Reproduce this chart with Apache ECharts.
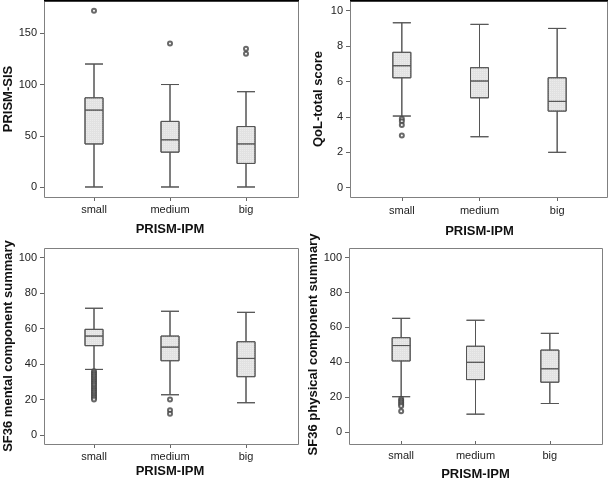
<!DOCTYPE html>
<html>
<head>
<meta charset="utf-8">
<script src="https://cdn.jsdelivr.net/npm/echarts@6/dist/echarts.min.js"></script>
<style>
  html, body { margin: 0; padding: 0; background: #fff; }
  #main { width: 609px; height: 482px; }
</style>
</head>
<body>
<div id="main"></div>
<script>
// groups on the x axis
var groups = ['small', 'medium', 'big'];

// box stats: [low whisker, Q1, median, Q3, high whisker]
var sisStats = [[0, 42, 75, 87, 120], [0, 34, 46, 64, 100], [0, 23, 42, 59, 93]];
var sisOutliers = [[0, 172], [1, 140], [2, 130], [2, 135]];
var sisTicks = [0, 50, 100, 150];

var qolStats = [[4.05, 6.21, 6.89, 7.65, 9.32], [2.88, 5.08, 6.03, 6.78, 9.23], [2.0, 4.33, 4.88, 6.21, 9.0]];
var qolOutliers = [[0, 3.9], [0, 3.75], [0, 3.55], [0, 2.95]];
var qolTicks = [0, 2, 4, 6, 8, 10];

var mcsStats = [[37, 50.4, 55.8, 59.6, 71.5], [22.7, 41.9, 49.6, 55.8, 69.8], [18.2, 32.9, 43.2, 52.6, 69.2]];
var mcsOutliers = [[0, 36], [0, 35], [0, 34], [0, 33], [0, 32], [0, 31], [0, 30], [0, 29], [0, 28],
  [0, 27], [0, 26], [0, 25], [0, 24], [0, 23], [0, 22], [0, 21], [0, 20],
  [1, 20], [1, 14], [1, 12]];
var mcsTicks = [0, 20, 40, 60, 80, 100];

var pcsStats = [[20.3, 40.8, 49.6, 54.1, 65.2], [10.3, 30.1, 40, 49.2, 64.1], [16.4, 28.6, 36.3, 47, 56.6]];
var pcsOutliers = [[0, 19], [0, 18], [0, 17], [0, 16], [0, 15], [0, 12]];
var pcsTicks = [0, 20, 40, 60, 80, 100];

var xTitle = 'PRISM-IPM';
var yTitles = ['PRISM-SIS', 'QoL-total score', 'SF36 mental component summary', 'SF36 physical component summary'];

// layout of each panel (frame in px, plot band area, axis range)
var panels = [
  { stats: sisStats, out: sisOutliers, ticks: sisTicks, fx0: 44, fx1: 298, fy0: 1, fy1: 197, px0: 56, px1: 284,
    min: -9.76, max: 181.5, nameGapY: 23, labelMargin: 7, nameGapX: 26, topLine: true },
  { stats: qolStats, out: qolOutliers, ticks: qolTicks, fx0: 350, fx1: 607, fy0: 1, fy1: 197, px0: 363, px1: 596,
    min: -0.525, max: 10.55, nameGapY: 25, labelMargin: 8, nameGapX: 28, topLine: true },
  { stats: mcsStats, out: mcsOutliers, ticks: mcsTicks, fx0: 44, fx1: 298, fy0: 248, fy1: 444, px0: 56, px1: 284,
    min: -5.08, max: 105.5, nameGapY: 27, labelMargin: 7, nameGapX: 21, topLine: false },
  { stats: pcsStats, out: pcsOutliers, ticks: pcsTicks, fx0: 349, fx1: 602, fy0: 248, fy1: 444, px0: 364, px1: 587,
    min: -5.08, max: 105.5, nameGapY: 29, labelMargin: 9, nameGapX: 27, topLine: false }
];

var W = 609, H = 482;
var font = 'Liberation Sans, Arial, sans-serif';

var grids = [], xAxes = [], yAxes = [], series = [], graphics = [];

panels.forEach(function (p, i) {
  grids.push({ left: p.px0, right: W - p.px1, top: p.fy0, bottom: H - p.fy1 });
  xAxes.push({
    type: 'category', gridIndex: i, data: groups,
    axisLine: { show: false, onZero: false },
    axisTick: { show: true, alignWithLabel: true, length: 4, lineStyle: { color: '#666' } },
    axisLabel: { color: '#222', fontSize: 11, fontFamily: font, margin: p.labelMargin },
    name: xTitle, nameLocation: 'middle', nameGap: p.nameGapX,
    nameTextStyle: { color: '#111', fontSize: 13, fontWeight: 'bold', fontFamily: font }
  });
  yAxes.push({
    type: 'value', gridIndex: i, min: p.min, max: p.max, offset: p.px0 - p.fx0,
    splitLine: { show: false }, axisLine: { show: false },
    axisTick: { show: true, length: 4, customValues: p.ticks, lineStyle: { color: '#666' } },
    axisLabel: { color: '#222', fontSize: 11, fontFamily: font, margin: 7, customValues: p.ticks },
    name: yTitles[i], nameLocation: 'middle', nameGap: p.nameGapY,
    nameTextStyle: { color: '#111', fontSize: 13, fontWeight: 'bold', fontFamily: font }
  });
  series.push({
    type: 'boxplot', xAxisIndex: i, yAxisIndex: i, data: p.stats,
    boxWidth: [18, 18],
    itemStyle: {
      color: '#e2e2e2', borderColor: '#555', borderWidth: 1,
      decal: { symbol: 'rect', symbolSize: 1, dashArrayX: [1, 1], dashArrayY: [1, 1], color: 'rgba(255,255,255,0.35)' }
    },
    emphasis: { disabled: true }
  });
  series.push({
    type: 'scatter', xAxisIndex: i, yAxisIndex: i, data: p.out,
    symbol: 'emptyCircle', symbolSize: 4,
    itemStyle: { color: '#444', borderColor: '#444', borderWidth: 0.8 },
    emphasis: { disabled: true }
  });
  graphics.push({
    type: 'rect', z: 100, silent: true,
    shape: { x: p.fx0 + 0.5, y: p.fy0 + 0.5, width: p.fx1 - p.fx0, height: p.fy1 - p.fy0 },
    style: { fill: 'none', stroke: '#808080', lineWidth: 1 }
  });
  if (p.topLine) {
    graphics.push({
      type: 'line', z: 101, silent: true,
      shape: { x1: p.fx0, y1: 0.5, x2: p.fx1 + 1, y2: 0.5 },
      style: { stroke: '#000', lineWidth: 2 }
    });
  }
});

var chart = echarts.init(document.getElementById('main'), null, { renderer: 'canvas' });
chart.setOption({
  animation: false,
  backgroundColor: '#fff',
  grid: grids,
  xAxis: xAxes,
  yAxis: yAxes,
  series: series,
  graphic: graphics
});
</script>
</body>
</html>
